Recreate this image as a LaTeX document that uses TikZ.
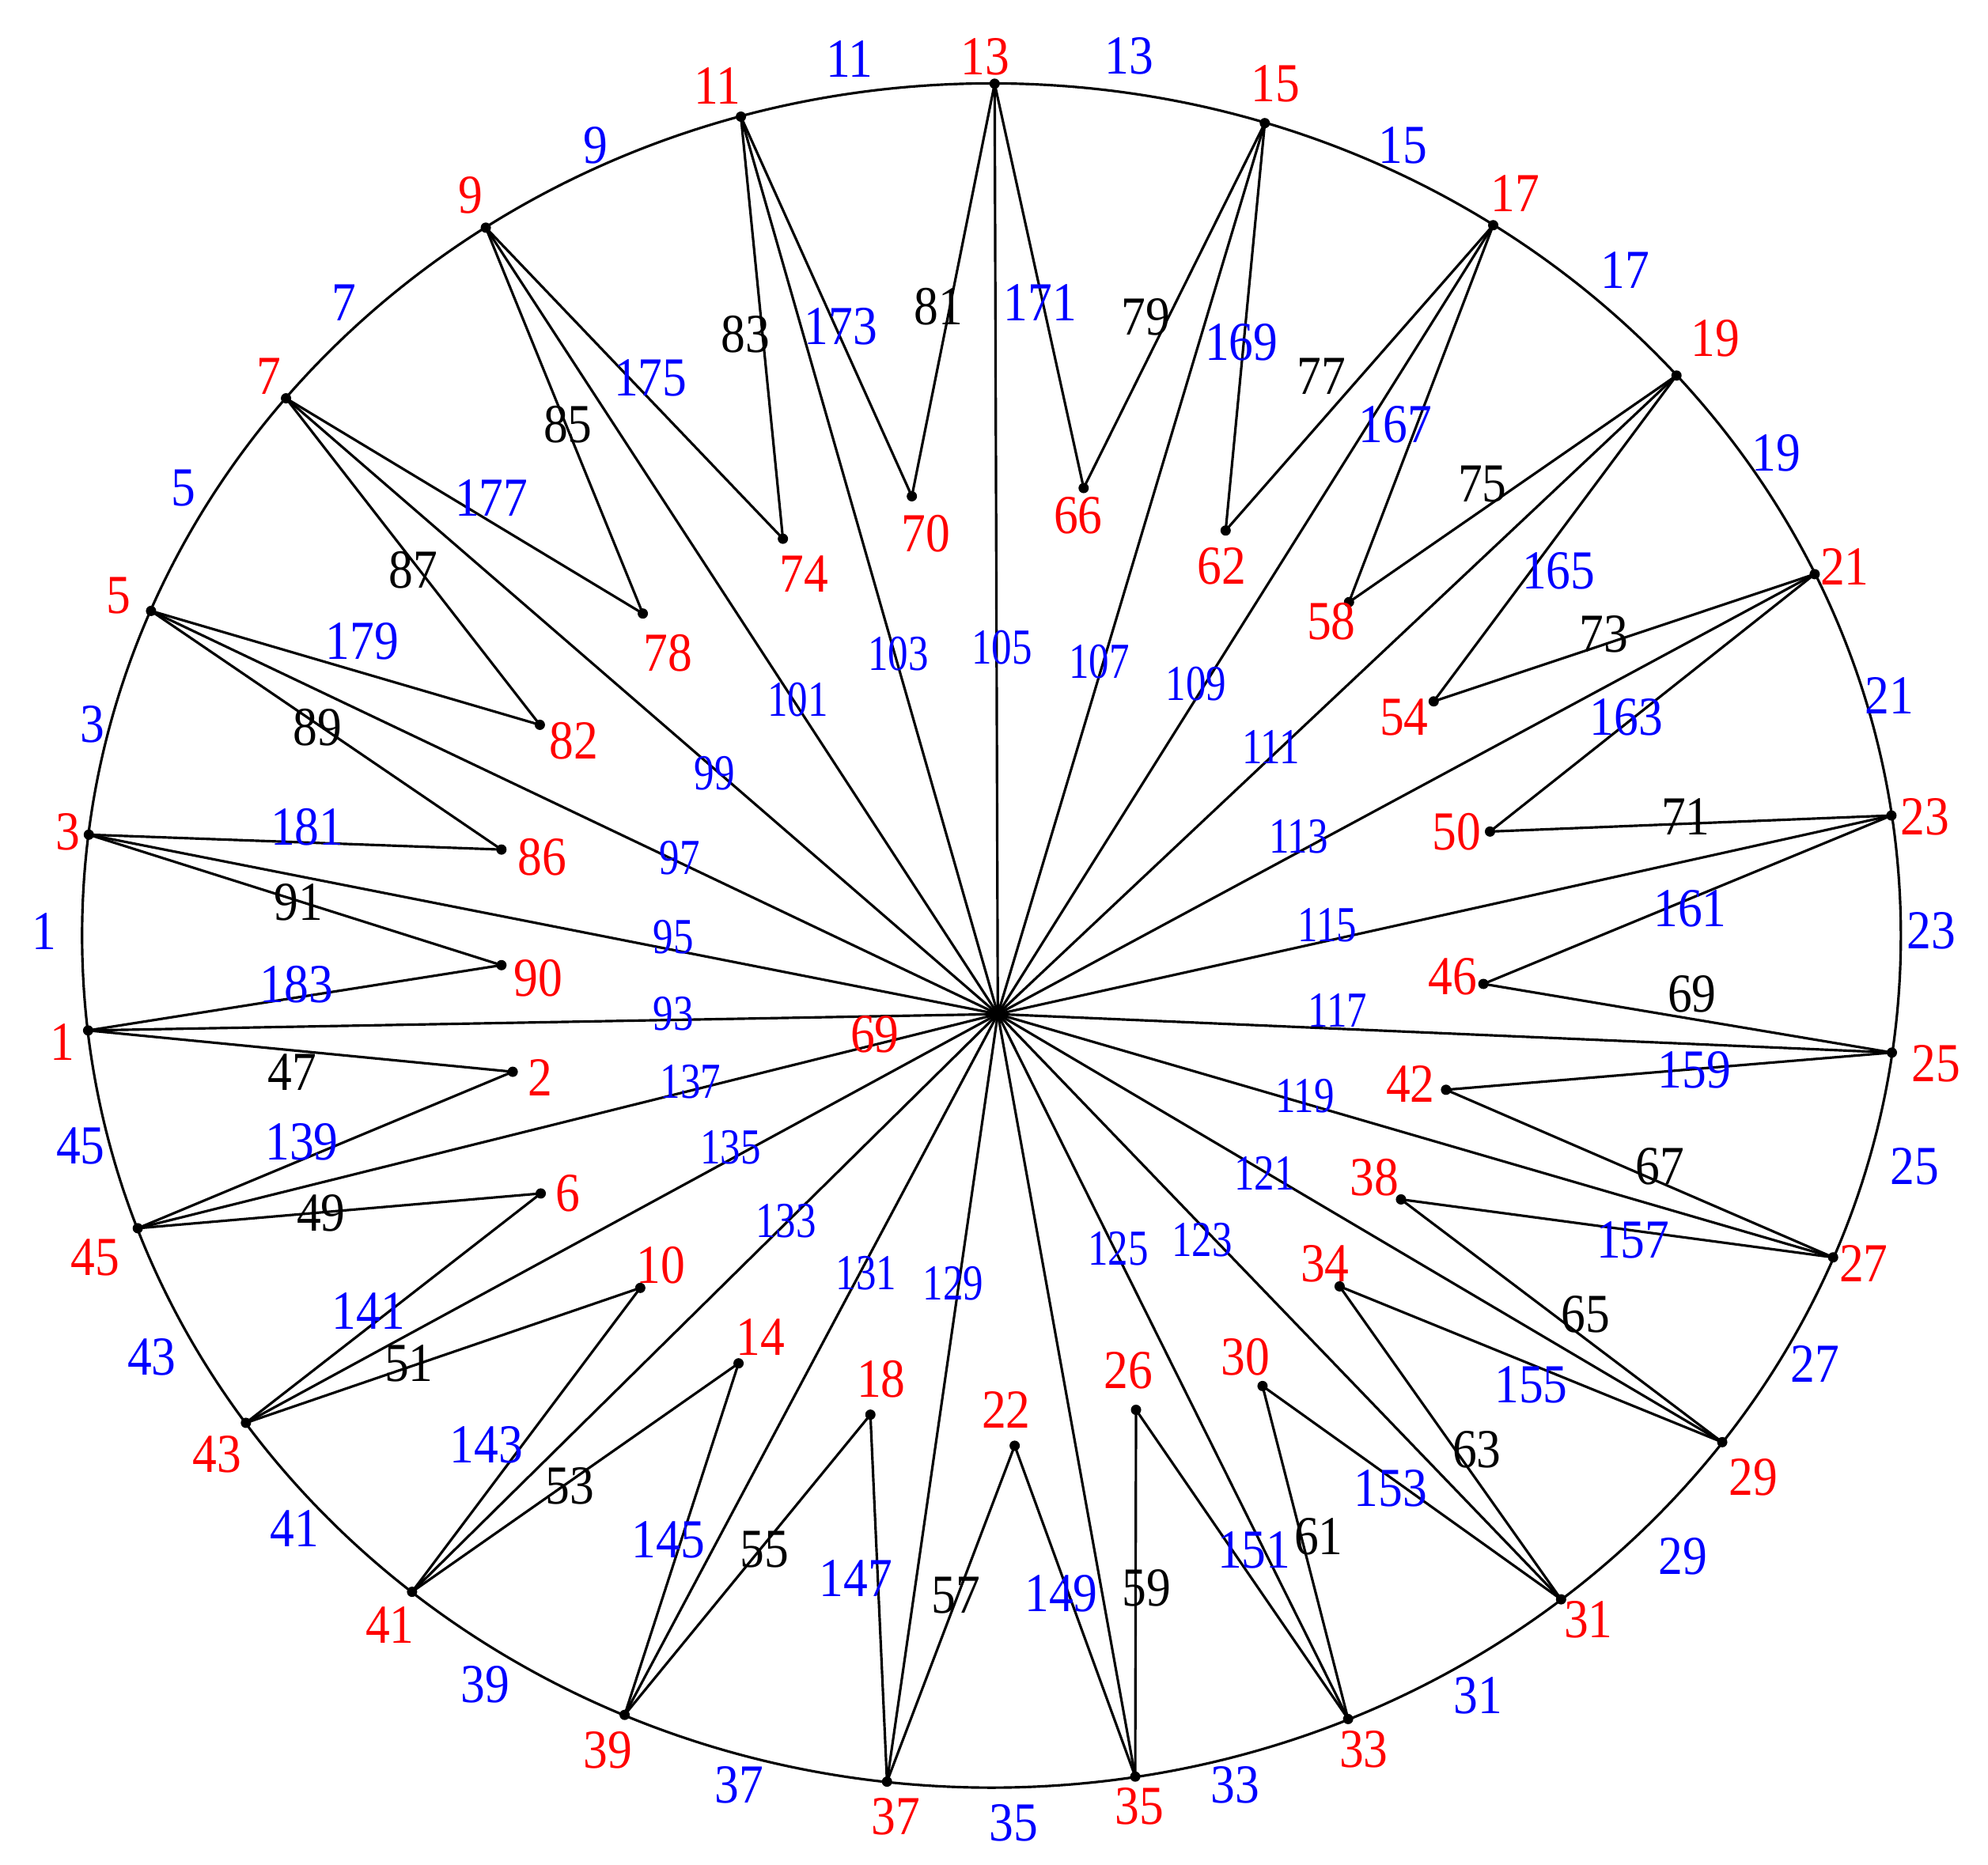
\documentclass[tikz,border=0pt]{standalone}
\usepackage{fontspec}
\setmainfont{Liberation Serif}
\usepackage{graphicx}
\newcommand{\TL}[1]{\scalebox{1}[1.13]{#1}}
\newcommand{\TS}[1]{\scalebox{1}[1.25]{#1}}
\begin{document}
\begin{tikzpicture}[x=0.016027cm,y=-0.016027cm,
  edge/.style={line width=0.9pt,draw=black},
  lab/.style={inner sep=0pt,font=\fontsize{17.5}{20}\selectfont},
  vl/.style={lab,text=red},
  al/.style={lab,text=blue},
  bl/.style={lab,text=black},
  sl/.style={inner sep=0pt,font=\fontsize{14.5}{17}\selectfont,text=blue}]
\useasboundingbox (0,0) rectangle (1568,1471);

% boundary vertices
\foreach \k/\t in {1/173.6,3/186.8,5/202.4,7/219.1,9/236.2,11/254.0,13/270.2,15/287.5,17/303.5,19/318.9,21/334.9,23/351.9,25/7.9,27/22.2,29/36.5,31/51.2,33/66.9,35/80.9,37/96.6,39/113.8,41/129.6,43/145.1,45/159.9}
  \coordinate (v\k) at ({782+717*cos(\t)},{738+672*sin(\t)});

% interior vertices
\coordinate (c) at (787,800);
\foreach \k/\x/\y in {2/404.4/845.5,6/426.5/941.5,10/505/1016,14/582.5/1075.5,18/686.5/1116,22/800.3/1140.5,26/896/1112.2,30/995.8/1093.4,34/1056.6/1014.8,38/1105/946.2,42/1140.5/859.7,46/1170/776.2,50/1175.2/656,54/1130.8/553.3,58/1064/475,62/966.7/418.5,66/854.7/385,70/719.2/391.5,74/617.5/425,78/507/484,82/425.8/571.8,86/395.5/670.2,90/395.5/761.4}
  \coordinate (u\k) at (\x,\y);

% outer boundary
\draw[edge] (782,738) ellipse [x radius=11.4914cm, y radius=10.7701cm];

% spokes
\foreach \k in {1,3,...,45}
  \draw[edge] (c) -- (v\k);

% boundary to interior
\foreach \a/\b in {1/90,1/2,3/86,3/90,5/82,5/86,7/78,7/82,9/74,9/78,11/70,11/74,13/66,13/70,15/62,15/66,17/58,17/62,19/54,19/58,21/50,21/54,23/46,23/50,25/42,25/46,27/38,27/42,29/34,29/38,31/30,31/34,33/26,33/30,35/22,35/26,37/18,37/22,39/14,39/18,41/10,41/14,43/6,43/10,45/2,45/6}
  \draw[edge] (v\a) -- (u\b);

% vertex dots
\foreach \k in {1,3,...,45}
  \fill (v\k) circle[radius=0.065cm];
\foreach \k in {2,6,...,90}
  \fill (u\k) circle[radius=0.065cm];
\fill (c) circle[radius=0.08cm];

% red vertex labels
\foreach \k/\x/\y in {1/49.5/822,3/53.5/656,5/93.6/470,7/212.2/297,9/371/154,11/565.7/67.6,13/777/44.6,15/1005.8/66,17/1194.9/152.5,19/1353/267.2,21/1455/447,23/1518.4/644.5,25/1526.8/839.3,27/1470/996.6,29/1383.1/1165.7,31/1252.8/1277.9,33/1075.6/1380.1,35/898.9/1424.7,37/706.7/1432.9,39/479.6/1380.7,41/307.5/1282,43/171.1/1147.5,45/75.2/991.9,2/426.1/850.3,6/447.9/941.5,10/521/998,14/599.7/1054.7,18/695/1087.7,22/793.6/1112.2,26/889.8/1081.4,30/982.4/1070.4,34/1045/997,38/1084/929,42/1112.4/855,46/1145.8/770.2,50/1149.1/656.1,54/1107.4/565.9,58/1050/490,62/963.4/446.4,66/850.4/407,70/730.1/421.2,74/634.2/452.6,78/527/515,82/452.8/584.7,86/427.8/675.9,90/424.4/771.7}
  \node[vl] (lv\k) at (\x,\y) {\TL{\k}};
\node[vl] (lc) at (690,815.7) {\TL{69}};

% blue boundary-arc labels
\foreach \k/\x/\y in {1/35.1/735,3/72.9/571.5,5/144.7/385,7/271.4/238.9,9/469.6/114.7,11/669.9/46.5,13/890.5/44,15/1106.7/114.7,17/1281.8/213.1,19/1400.8/357.7,21/1490/548.6,23/1523.4/734,25/1510.1/920.4,27/1431.5/1075.8,29/1327.3/1227.6,31/1165.8/1337.6,33/974.1/1408.4,35/799.6/1438.2,37/583/1408.4,39/382.7/1329.1,41/232.3/1205.6,43/119.7/1070.4,45/63.5/903.8}
  \node[al] (la\k) at (\x,\y) {\TL{\k}};

% black edge labels
\foreach \k/\x/\y in {47/230.6/845.6,91/235.6/712,89/250.6/573.7,87/325.9/449.5,85/447.9/334.8,83/588/264,81/740.1/242,79/903.9/249.9,77/1042/297,75/1169.2/381.9,73/1265/500,71/1329.6/644.5,69/1334.6/784.3,67/1309.5/920.4,65/1250.4/1036.8,63/1164.8/1143.7,61/1040/1212,59/904.5/1252.8,57/754.2/1258.4,55/603.1/1222.3,53/449.5/1172,51/322.5/1075.8,49/253.3/957.2}
  \node[bl] (le\k) at (\x,\y) {\TL{\k}};

% blue edge labels
\foreach \k/\x/\y in {183/234/776.4,181/242.3/652.3,179/285.8/506.1,177/387.7/392.9,175/513/298,173/663.3/257.8,171/820.3/238.9,169/979.1/270.3,167/1100.6/334.8,165/1229.4/450.1,163/1282.9/565.9,161/1333/716.7,159/1336.3/844,157/1288/978,155/1207.7/1092.5,153/1096.7/1174.2,151/989.1/1222.9,149/837/1256.9,147/674.9/1244.9,145/527/1215,143/383.7/1139.6,141/290.8/1034.3,139/238/900.6}
  \node[al] (lb\k) at (\x,\y) {\TL{\k}};

% spoke labels
\foreach \k/\x/\y in {93/531/800,95/531/739,97/536/677,99/563.6/609.8,101/629.1/551.7,103/708.4/515.6,105/790.2/510.8,107/867.1/521.9,109/943.3/539.2,111/1002.4/589.4,113/1024.2/660.1,115/1047/730,117/1055/797,119/1029.2/864.5,121/997.4/925.7,123/948/978,125/882/985,129/751.8/1012.3,131/683.3/1004.4,133/619.8/963.5,135/576.3/905.3,137/544.6/853.5}
  \node[sl] (ls\k) at (\x,\y) {\TS{\k}};
\end{tikzpicture}
\end{document}
